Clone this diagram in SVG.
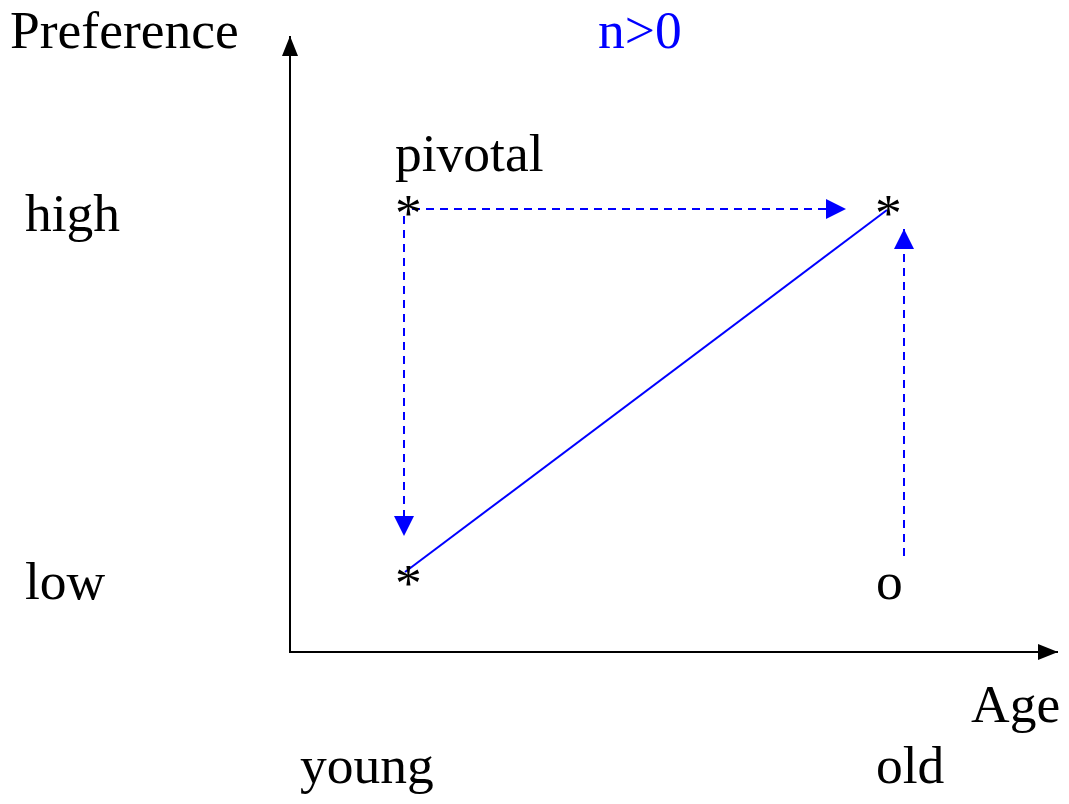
<svg xmlns="http://www.w3.org/2000/svg" width="1069" height="804" viewBox="0 0 1069 804">
<style>
text{font-family:"Liberation Serif","Times New Roman",serif;font-size:53.5px;fill:#000}
.blue{fill:#0000ff}
.axis{stroke:#000;stroke-width:2;fill:none}
.dash{stroke:#0000ff;stroke-width:2;stroke-dasharray:8,6;fill:none}
.solid{stroke:#0000ff;stroke-width:2;fill:none}
</style>
<defs>
<marker id="ab" markerUnits="userSpaceOnUse" markerWidth="22" markerHeight="18" refX="20" refY="8" orient="auto" viewBox="0 0 22 18"><path d="M0,0 L20,8 L0,16 Z" fill="#000"/></marker>
<marker id="bb" markerUnits="userSpaceOnUse" markerWidth="22" markerHeight="22" refX="20" refY="10" orient="auto" viewBox="0 0 22 22"><path d="M0,0 L20,10 L0,20 Z" fill="#0000ff"/></marker>
</defs>
<g id="axes">
<line class="axis" x1="290" y1="653" x2="290" y2="36" marker-end="url(#ab)"/>
<line class="axis" x1="289" y1="652" x2="1058" y2="652" marker-end="url(#ab)"/>
</g>
<g id="connectors">
<line class="dash" x1="412" y1="209" x2="846" y2="209" marker-end="url(#bb)"/>
<line class="dash" x1="404" y1="216" x2="404" y2="536" marker-end="url(#bb)"/>
<line class="dash" x1="904" y1="556" x2="904" y2="229" marker-end="url(#bb)"/>
<line class="solid" x1="405" y1="572" x2="887" y2="210"/>
</g>
<g id="labels">
<text x="10" y="48">Preference</text>
<text class="blue" x="598" y="48">n&gt;0</text>
<text x="25" y="231">high</text>
<text x="25" y="599">low</text>
<text x="971" y="722">Age</text>
<text x="300" y="783">young</text>
<text x="876" y="783">old</text>
</g>
<g id="node-pivotal"><text x="395" y="171">pivotal</text><text x="395" y="231">*</text></g>
<g id="node-high-old"><text x="875" y="231">*</text></g>
<g id="node-low-young"><text x="395" y="601">*</text></g>
<g id="node-low-old"><text x="876" y="599">o</text></g>
</svg>
